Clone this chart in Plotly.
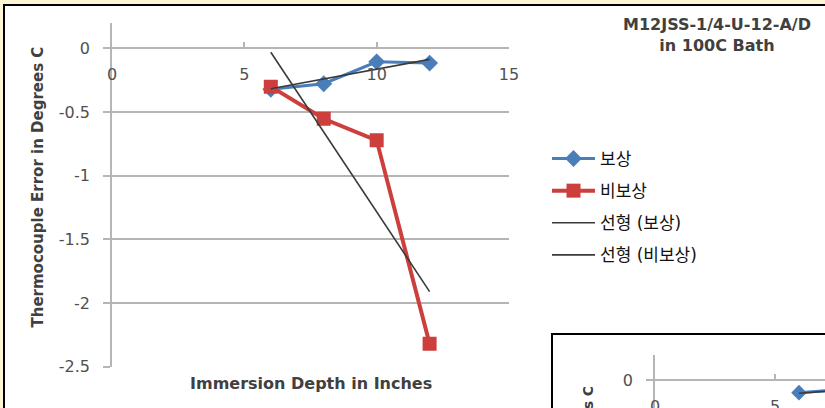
import plotly.graph_objects as go

W, H = 825, 408


def px(x):
    return x / W


def py(y):
    return (H - y) / H


# ---- data (main chart) ----
depth = [6, 8, 10, 12]
compensated = [-0.32, -0.277, -0.105, -0.115]
uncompensated = [-0.30, -0.552, -0.722, -2.32]
trend_x = [6, 12]
trend_comp = [-0.316, -0.086]
trend_uncomp = [-0.03, -1.91]
x_ticks = [0, 5, 10, 15]
y_ticks = [0, -0.5, -1, -1.5, -2, -2.5]
y_tick_text = ["0", "-0.5", "-1", "-1.5", "-2", "-2.5"]
names = ["보상", "비보상", "선형 (보상)", "선형 (비보상)"]

# ---- data (second chart, partly visible) ----
depth2 = [6, 8]
compensated2 = [-0.11, -0.08]
trend2 = [-0.115, -0.085]

FONT = "DejaVu Sans, Noto Sans CJK KR, sans-serif"
BLUE = "#4A7EBB"
RED = "#CC3F3C"
TREND = "#3a3a3a"
GRID = "#b5b5b5"
TICKC = "#505050"
TITLEC = "#404040"

fig = go.Figure()

fig.add_trace(go.Scatter(x=depth, y=compensated, name=names[0], legendgroup="a",
                         mode="lines+markers",
                         line=dict(color=BLUE, width=3),
                         marker=dict(symbol="diamond", size=13, color=BLUE)))
fig.add_trace(go.Scatter(x=depth, y=uncompensated, name=names[1], legendgroup="b",
                         mode="lines+markers",
                         line=dict(color=RED, width=4),
                         marker=dict(symbol="square", size=14, color=RED)))
fig.add_trace(go.Scatter(x=trend_x, y=trend_comp, name=names[2], legendgroup="c",
                         mode="lines", line=dict(color=TREND, width=1.6)))
fig.add_trace(go.Scatter(x=trend_x, y=trend_uncomp, name=names[3], legendgroup="d",
                         mode="lines", line=dict(color=TREND, width=1.6)))

fig.add_trace(go.Scatter(x=depth2, y=compensated2, xaxis="x2", yaxis="y2",
                         mode="lines+markers", showlegend=False,
                         line=dict(color=BLUE, width=3),
                         marker=dict(symbol="diamond", size=12, color=BLUE)))
fig.add_trace(go.Scatter(x=depth2, y=trend2, xaxis="x2", yaxis="y2",
                         mode="lines", showlegend=False,
                         line=dict(color=TREND, width=1.6)))

axis_common = dict(showline=True, linecolor=GRID, linewidth=1.5,
                   tickcolor=GRID, tickwidth=1.5, zeroline=False,
                   automargin=False,
                   tickfont=dict(family=FONT, size=16, color=TICKC))

fig.update_layout(
    width=W, height=H,
    margin=dict(l=0, r=0, t=0, b=0, pad=0, autoexpand=False),
    paper_bgcolor="#FDF6D6",
    plot_bgcolor="rgba(0,0,0,0)",
    font=dict(family=FONT),
    xaxis=dict(domain=[px(112), px(509)], range=[0, 15], anchor="free",
               position=py(48), side="bottom", ticks="inside", ticklen=5,
               tickvals=x_ticks, showgrid=False, ticklabelstandoff=12,
               **axis_common),
    yaxis=dict(domain=[py(366.7), py(23)], range=[-2.5, 0.2], anchor="x",
               ticks="outside", ticklen=7, tickvals=y_ticks, ticktext=y_tick_text,
               showgrid=True, gridcolor=GRID, gridwidth=1.5,
               ticklabelstandoff=10, **axis_common),
    xaxis2=dict(domain=[px(655), 1], range=[0, 170 / 24], anchor="free",
                position=py(380), side="bottom", ticks="inside", ticklen=5,
                tickvals=[0, 5], showgrid=False, ticklabelstandoff=12,
                **axis_common),
    yaxis2=dict(domain=[0, py(355)], range=[-28 / 115, 25 / 115], anchor="x2",
                ticks="outside", ticklen=7, tickvals=[0], ticktext=["0"],
                showgrid=True, gridcolor=GRID, gridwidth=1.5,
                ticklabelstandoff=10, **axis_common),
    showlegend=True,
    legend=dict(x=px(547), y=py(141), xanchor="left", yanchor="top",
                bgcolor="rgba(0,0,0,0)", tracegroupgap=7, itemwidth=43,
                font=dict(family=FONT, size=17, color="#111111")),
    shapes=[
        dict(type="rect", xref="paper", yref="paper", layer="below",
             x0=px(4), x1=px(840), y0=py(5), y1=py(420),
             fillcolor="white", line=dict(color="black", width=2)),
        dict(type="rect", xref="paper", yref="paper", layer="below",
             x0=px(552), x1=px(840), y0=py(334), y1=py(420),
             fillcolor="white", line=dict(color="black", width=2)),
    ],
    annotations=[
        dict(text="Thermocouple Error in Degrees C", xref="paper", yref="paper",
             x=px(37.5), y=py(187), xanchor="center", yanchor="middle",
             textangle=-90, showarrow=False,
             font=dict(family=FONT, size=15, color=TITLEC, weight="bold")),
        dict(text="Immersion Depth in Inches", xref="paper", yref="paper",
             x=px(310.5), y=py(383), xanchor="center", yanchor="middle",
             showarrow=False,
             font=dict(family=FONT, size=16, color=TITLEC, weight="bold")),
        dict(text="M12JSS-1/4-U-12-A/D<br>in 100C Bath", xref="paper", yref="paper",
             x=px(717), y=py(34.5), xanchor="center", yanchor="middle",
             showarrow=False,
             font=dict(family=FONT, size=16, color=TITLEC, weight="bold")),
        dict(text="Thermocouple Error in Degrees C", xref="paper", yref="paper",
             x=px(588), y=py(384), xanchor="center", yanchor="top",
             textangle=-90, showarrow=False,
             font=dict(family=FONT, size=14, color=TITLEC, weight="bold")),
    ],
)

fig.write_html("out.html",
               config={"displayModeBar": False},
               post_script="document.body.style.margin='0';"
                           "document.body.style.padding='0';"
                           "document.documentElement.style.background='#FDF6D6';")
